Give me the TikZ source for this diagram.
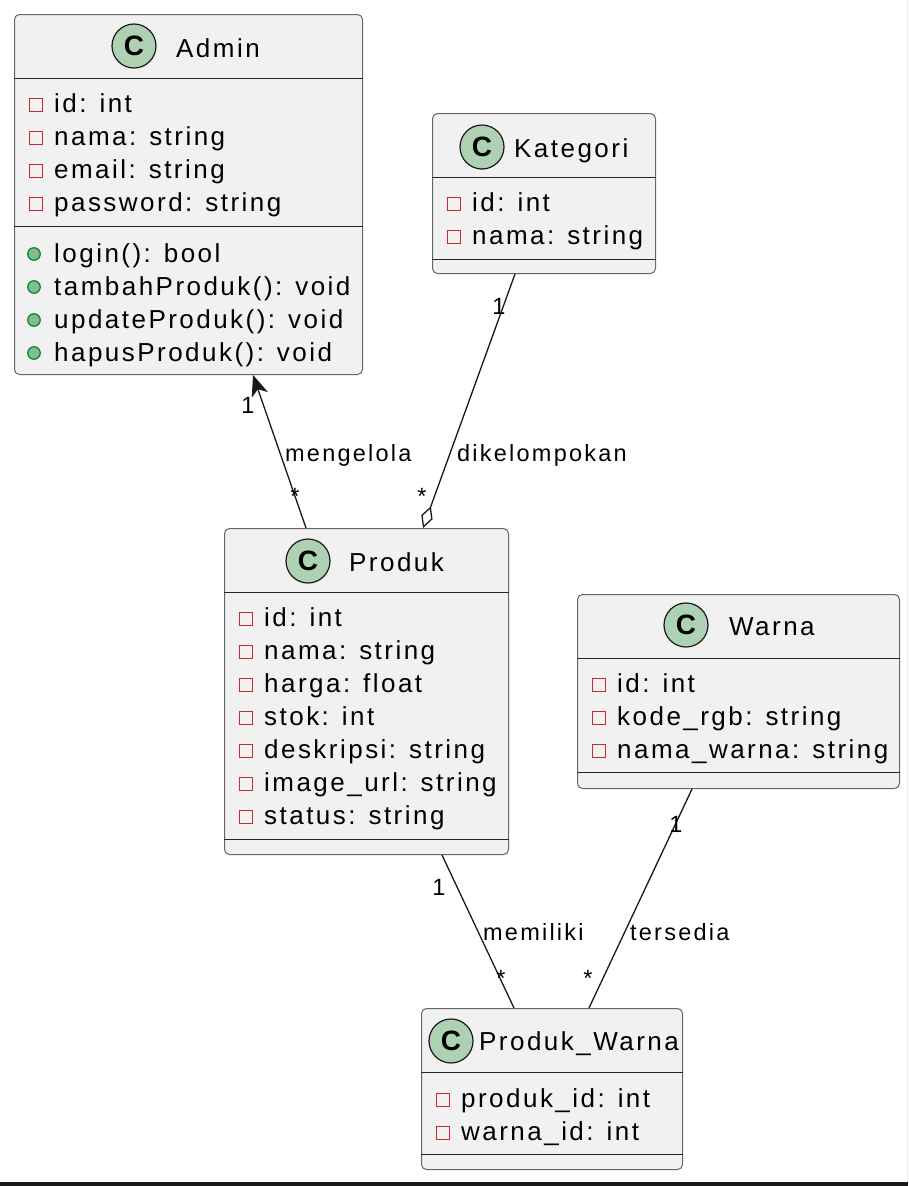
\documentclass[tikz,border=0pt]{standalone}
\usepackage{fontspec}
\setmainfont{Liberation Sans}[LetterSpace=9.5]
\usetikzlibrary{arrows.meta}
\definecolor{clsfill}{HTML}{F1F1F1}
\definecolor{iconfill}{HTML}{ADD1B2}
\definecolor{privred}{HTML}{C82930}
\definecolor{pubfill}{HTML}{84BE84}
\definecolor{pubgreen}{HTML}{038048}
\begin{document}
\begin{tikzpicture}[x=1pt, y=-1pt,
    cls/.style={draw=black!60, fill=clsfill, line width=1pt, rounded corners=5pt,
      anchor=north west, inner sep=0},
    icon/.style={circle, draw=black!90, fill=iconfill, line width=1.2pt, minimum size=44pt,
      inner sep=0, font=\bfseries\fontsize{28}{28}\selectfont},
    title/.style={anchor=base west, inner sep=0, font=\fontsize{26}{30}\selectfont},
    mem/.style={anchor=base west, inner sep=0, font=\fontsize{26}{30}\selectfont},
    priv/.style={draw=privred, line width=1.5pt, minimum size=13pt, inner sep=0},
    pub/.style={circle, draw=pubgreen, fill=pubfill, line width=1.2pt, minimum size=12.5pt, inner sep=0},
    divider/.style={draw=black!85, line width=1pt},
    assoc/.style={draw=black!90, line width=1.3pt},
    lbl/.style={anchor=base west, inner sep=0, font=\fontsize{23.5}{26}\selectfont},
    card/.style={anchor=base, inner sep=0, font=\fontsize{23.5}{26}\selectfont}]

    \fill[white] (0,0) rectangle (908,1186);
    \useasboundingbox (0,0) rectangle (908,1186);

    % class boxes
    \node [cls, minimum width=348pt, minimum height=360pt] (admin) at (14,14) {};
    \node [cls, minimum width=223pt, minimum height=160pt] (kategori) at (432,113) {};
    \node [cls, minimum width=284pt, minimum height=326pt] (produk) at (224,528) {};
    \node [cls, minimum width=322pt, minimum height=194pt] (warna) at (577,594) {};
    \node [cls, minimum width=261pt, minimum height=161pt] (produkwarna) at (421,1008) {};

    % headers
    \node [icon] (admin-icon) at (134,46) {C};
    \node [title] (admin-title) at (176,57) {Admin};
    \node [icon] (kategori-icon) at (482,147) {C};
    \node [title] (kategori-title) at (514,157) {Kategori};
    \node [icon] (produk-icon) at (308,561) {C};
    \node [title] (produk-title) at (349,571) {Produk};
    \node [icon] (warna-icon) at (686,625) {C};
    \node [title] (warna-title) at (729,635) {Warna};
    \node [icon] (produkwarna-icon) at (451,1041) {C};
    \node [title] (produkwarna-title) at (479,1050) {Produk\_Warna};

    % compartment lines
    \draw [divider] (admin.west |- 0,78) -- (admin.east |- 0,78);
    \draw [divider] (admin.west |- 0,226) -- (admin.east |- 0,226);
    \draw [divider] (kategori.west |- 0,177) -- (kategori.east |- 0,177);
    \draw [divider] (kategori.west |- 0,259) -- (kategori.east |- 0,259);
    \draw [divider] (produk.west |- 0,592) -- (produk.east |- 0,592);
    \draw [divider] (produk.west |- 0,839) -- (produk.east |- 0,839);
    \draw [divider] (warna.west |- 0,658) -- (warna.east |- 0,658);
    \draw [divider] (warna.west |- 0,772) -- (warna.east |- 0,772);
    \draw [divider] (produkwarna.west |- 0,1072) -- (produkwarna.east |- 0,1072);
    \draw [divider] (produkwarna.west |- 0,1154) -- (produkwarna.east |- 0,1154);

    % members
    \foreach \m [count=\i from 0] in {id: int, nama: string, email: string, password: string} {
      \node [priv] at (36,105+33*\i) {};
      \node [mem] at (54,112+33*\i) {\m};
    }
    \foreach \m [count=\i from 0] in {login(): bool, tambahProduk(): void, updateProduk(): void, hapusProduk(): void} {
      \node [pub] at (34,254+33*\i) {};
      \node [mem] at (54,262+33*\i) {\m};
    }
    \foreach \m [count=\i from 0] in {id: int, nama: string} {
      \node [priv] at (454,204+33*\i) {};
      \node [mem] at (472,211+33*\i) {\m};
    }
    \foreach \m [count=\i from 0] in {id: int, nama: string, harga: float, stok: int,
        deskripsi: string, image\_url: string, status: string} {
      \node [priv] at (246,619+33*\i) {};
      \node [mem] at (264,626+33*\i) {\m};
    }
    \foreach \m [count=\i from 0] in {id: int, kode\_rgb: string, nama\_warna: string} {
      \node [priv] at (599,685+33*\i) {};
      \node [mem] at (617,692+33*\i) {\m};
    }
    \foreach \m [count=\i from 0] in {produk\_id: int, warna\_id: int} {
      \node [priv] at (443,1100+33*\i) {};
      \node [mem] at (461,1107+33*\i) {\m};
    }

    % relations
    \draw [assoc, -{Stealth[length=21pt, width=17pt, inset=6pt]}]
      (produk.north -| 306,0) -- (admin.south -| 253,0);
    \draw [assoc, {Diamond[open, length=23pt, width=12pt]}-]
      (produk.north -| 423,0) -- (kategori.south -| 515,0);
    \draw [assoc] (produk.south -| 442,0) -- (produkwarna.north -| 514,0);
    \draw [assoc] (warna.south -| 692,0) -- (produkwarna.north -| 589,0);

    \node [lbl] (mengelola) at (285,461) {mengelola};
    \node [lbl] (dikelompokan) at (457,461) {dikelompokan};
    \node [lbl] (memiliki) at (483,940) {memiliki};
    \node [lbl] (tersedia) at (630,940) {tersedia};

    \node [card] (admin-one) at (248,413) {1};
    \node [card] (produk-many-a) at (295,504) {*};
    \node [card] (kategori-one) at (499,314) {1};
    \node [card] (produk-many-k) at (422,504) {*};
    \node [card] (produk-one) at (439,895) {1};
    \node [card] (pw-many-p) at (501,986) {*};
    \node [card] (warna-one) at (676,832) {1};
    \node [card] (pw-many-w) at (588,986) {*};

    % window edge
    \draw [black!8] (907,0) -- (907,1182);
    \fill [black!90] (0,1182) rectangle (908,1186);
\end{tikzpicture}
\end{document}
